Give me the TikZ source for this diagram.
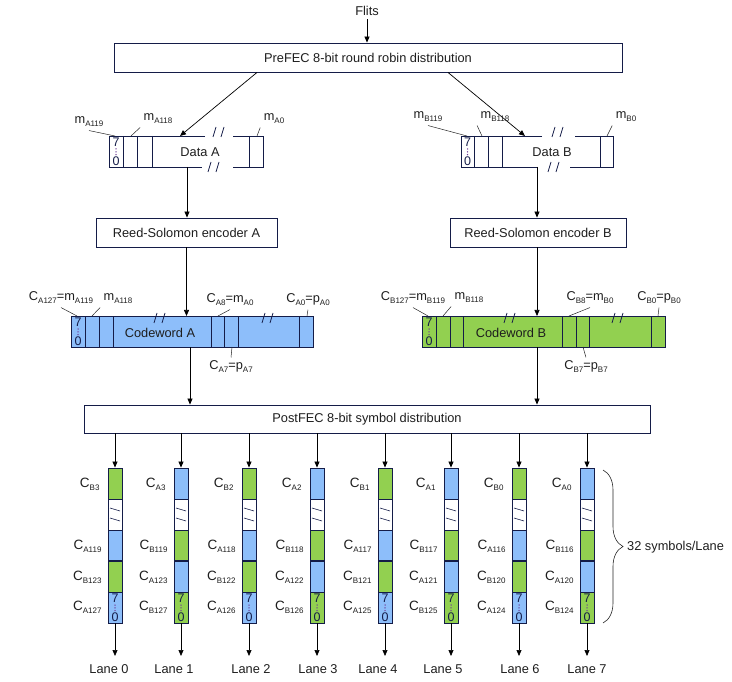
\documentclass[tikz,border=0pt]{standalone}
\usepackage{fontspec}
\setmainfont{Liberation Sans}
\usetikzlibrary{arrows.meta,decorations.pathreplacing}

\definecolor{edgeblue}{RGB}{20,28,72}
\definecolor{symblue}{RGB}{141,190,250}
\definecolor{symgreen}{RGB}{146,208,80}
\definecolor{inktext}{RGB}{30,30,30}
\definecolor{dotpurple}{RGB}{110,60,150}

% small lowered index, as in C_{A127}
\newcommand\ix[1]{\raisebox{-0.45ex}{\fontsize{8}{8}\selectfont #1}}
% 7 ... 0 bit marks in one symbol cell: name, x, top y
\newcommand\bitmarks[3]{%
  \node[digit] (#1t) at (#2,#3+6.5) {7};
  \node[digit] (#1b) at (#2,#3+25) {0};
  \foreach \dy in {13,15.8,18.6} \fill[dotpurple] (#2,#3+\dy) circle (0.75);
}
% broken-line mark "//": x, y
\newcommand\brk[2]{\draw[breakmark] (#1-6,#2+5) -- (#1-3,#2-5) (#1+2,#2+5) -- (#1+5,#2-5);}

\tikzset{
  >={Triangle[length=6pt,width=5pt]},
  every node/.style={font=\fontsize{12.8}{14}\selectfont, text=inktext},
  blockbox/.style={draw=edgeblue, line width=0.9pt, inner sep=0pt, fill=white},
  lanebox/.style={draw=edgeblue, line width=0.9pt, inner sep=0pt, minimum width=14, minimum height=155},
  cellline/.style={draw=edgeblue, line width=0.9pt},
  flow/.style={->, line width=0.7pt, black},
  leader/.style={line width=0.5pt, black!85},
  digit/.style={inner sep=0pt, font=\fontsize{12.5}{12.5}\selectfont, text=edgeblue},
  breakmark/.style={line width=0.8pt, edgeblue},
}

\begin{document}
\begin{tikzpicture}[x=1pt, y=-1pt]
  % --- 0. Canvas ---
  \useasboundingbox (0,0) rectangle (732,682);

  % --- 1. Distribution and encoder blocks ---
  \node (flits) at (367,11) {Flits};
  \node[blockbox, minimum width=508, minimum height=29] (prefec) at (368,57.5) {PreFEC 8-bit round robin distribution};
  \node[blockbox, minimum width=181, minimum height=29] (rsA) at (186.5,232.5) {Reed-Solomon encoder A};
  \node[blockbox, minimum width=176, minimum height=29] (rsB) at (538,232.5) {Reed-Solomon encoder B};
  \node[blockbox, minimum width=566, minimum height=28] (postfec) at (367,419) {PostFEC 8-bit symbol distribution};

  % --- 2. Data blocks ---
  \draw[cellline] (205,136) -- (109,136) -- (109,167) -- (202,167)
                  (233,136) -- (263,136) -- (263,167) -- (233,167);
  \foreach \xd in {123,137,152,249} \draw[cellline] (\xd,136) -- (\xd,167);
  \brk{219}{132} \brk{214}{167}
  \node (dataA) at (200,152) {Data A};
  \bitmarks{dA}{116}{136}

  \draw[cellline] (542,136) -- (461,136) -- (461,167) -- (538,167)
                  (575,136) -- (613,136) -- (613,167) -- (570,167);
  \foreach \xd in {474,488,502,600} \draw[cellline] (\xd,136) -- (\xd,167);
  \brk{558}{132} \brk{554}{167}
  \node (dataB) at (552,152) {Data B};
  \bitmarks{dB}{467.5}{136}

  % --- 3. Codewords ---
  \filldraw[cellline, fill=symblue] (71,316) rectangle (313,347);
  \foreach \xd in {85,99,113,211,224,238,299} \draw[cellline] (\xd,316) -- (\xd,347);
  \brk{160}{318} \brk{268}{318}
  \node (cwA) at (160,333) {Codeword A};
  \bitmarks{cA}{78}{316}

  \filldraw[cellline, fill=symgreen] (422,316) rectangle (665,347);
  \foreach \xd in {436,450,463,562,576,589,651} \draw[cellline] (\xd,316) -- (\xd,347);
  \brk{510}{318} \brk{618}{318}
  \node (cwB) at (511,333) {Codeword B};
  \bitmarks{cB}{429}{316}

  % attach points on the drawn blocks
  \coordinate (dataAtop) at (180,136);
  \coordinate (dataAbot) at (187,167);
  \coordinate (dataBtop) at (525,136);
  \coordinate (dataBbot) at (537,167);
  \coordinate (cwAin) at (186.5,316);
  \coordinate (cwAout) at (190,347);
  \coordinate (cwBin) at (537,316);
  \coordinate (cwBout) at (537,347);

  % --- 4. Flow arrows ---
  \draw[flow] (flits.south) -- (flits.south |- prefec.north);
  \draw[flow] ([xshift=-111pt]prefec.south) -- (dataAtop);
  \draw[flow] ([xshift=80pt]prefec.south) -- (dataBtop);
  \draw[flow] (dataAbot) -- (dataAbot |- rsA.north);
  \draw[flow] (dataBbot) -- (dataBbot |- rsB.north);
  \draw[flow] (rsA.south) -- (cwAin);
  \draw[flow] (rsB.south -| cwBin) -- (cwBin);
  \draw[flow] (cwAout) -- (cwAout |- postfec.north);
  \draw[flow] (cwBout) -- (cwBout |- postfec.north);

  % --- 5. Symbol labels with leaders ---
  \node (mA119) at (89,122) {m\ix{A119}};
  \node (mA118) at (158,119) {m\ix{A118}};
  \node (mA0) at (274,119) {m\ix{A0}};
  \node (mB119) at (428,117) {m\ix{B119}};
  \node (mB118) at (495,117) {m\ix{B118}};
  \node (mB0) at (626,117) {m\ix{B0}};
  \coordinate (pA119) at (115,136);
  \coordinate (pA118) at (131,136);
  \coordinate (pA0) at (257,136);
  \coordinate (pB119) at (467,136);
  \coordinate (pB118) at (482,136);
  \coordinate (pB0) at (607,136);
  \draw[leader] (mA119.south) -- (pA119);
  \draw[leader] (mA118.south west) -- (pA118);
  \draw[leader] (mA0.south west) -- (pA0);
  \draw[leader] (mB119.south) -- (pB119);
  \draw[leader] (mB118.south west) -- (pB118);
  \draw[leader] (mB0.south west) -- (pB0);

  \node (cA127) at (61,298) {C\ix{A127}=m\ix{A119}};
  \node (cmA118) at (118,299) {m\ix{A118}};
  \node (cA8) at (230,300) {C\ix{A8}=m\ix{A0}};
  \node (cA0) at (308,300) {C\ix{A0}=p\ix{A0}};
  \node (cA7) at (231,367) {C\ix{A7}=p\ix{A7}};
  \node (cB127) at (413,298) {C\ix{B127}=m\ix{B119}};
  \node (cmB118) at (469,298) {m\ix{B118}};
  \node (cB8) at (590,298) {C\ix{B8}=m\ix{B0}};
  \node (cB0) at (659,298) {C\ix{B0}=p\ix{B0}};
  \node (cB7) at (586,367) {C\ix{B7}=p\ix{B7}};
  \coordinate (qA127) at (77,316);
  \coordinate (qA118) at (92,316);
  \coordinate (qA8) at (218,316);
  \coordinate (qA0) at (307,316);
  \coordinate (qA7) at (232,347);
  \coordinate (qB127) at (428,316);
  \coordinate (qB118) at (443,316);
  \coordinate (qB8) at (569,316);
  \coordinate (qB0) at (658,316);
  \coordinate (qB7) at (583,347);
  \draw[leader] (cA127.south) -- (qA127);
  \draw[leader] (cmA118.south west) -- (qA118);
  \draw[leader] (cA8.south) -- (qA8);
  \draw[leader] (cA0.south) -- (qA0);
  \draw[leader] (cA7.north) -- (qA7);
  \draw[leader] (cB127.south) -- (qB127);
  \draw[leader] (cmB118.south west) -- (qB118);
  \draw[leader] (cB8.south) -- (qB8);
  \draw[leader] (cB0.south) -- (qB0);
  \draw[leader] (cB7.north) -- (qB7);

  % --- 6. Lanes ---
  \foreach \xc/\lx/\ca/\cb/\sa/\sb/\sc/\sd [count=\i from 0] in {
      115/109/symgreen/symblue/B3/A119/B123/A127,
      181/174/symblue/symgreen/A3/B119/A123/B127,
      249/251/symgreen/symblue/B2/A118/B122/A126,
      317/318/symblue/symgreen/A2/B118/A122/B126,
      385/378/symgreen/symblue/B1/A117/B121/A125,
      451/443/symblue/symgreen/A1/B117/A121/B125,
      519/520/symgreen/symblue/B0/A116/B120/A124,
      587/587/symblue/symgreen/A0/B116/A120/B124}
  {
    \fill[\ca] (\xc-7,468) rectangle (\xc+7,499);
    \fill[\cb] (\xc-7,530) rectangle (\xc+7,561);
    \fill[\ca] (\xc-7,561) rectangle (\xc+7,592);
    \fill[\cb] (\xc-7,592) rectangle (\xc+7,623);
    \node[lanebox] (lane\i) at (\xc,545.5) {};
    \foreach \yl in {499,530,592} \draw[cellline] (\xc-7,\yl) -- (\xc+7,\yl);
    \draw[cellline, line width=1.6pt] (\xc-7,561) -- (\xc+7,561);
    \draw[breakmark, line width=0.6pt] (\xc-5,508) -- (\xc+5,511) (\xc-5,518) -- (\xc+5,521);
    \bitmarks{lb\i}{\xc}{592}
    \node[anchor=east, font=\fontsize{13.5}{14}\selectfont] (sa\i) at (\xc-12,484) {C\ix{\sa}};
    \node[anchor=east, font=\fontsize{13.5}{14}\selectfont] (sb\i) at (\xc-10,546) {C\ix{\sb}};
    \node[anchor=east, font=\fontsize{13.5}{14}\selectfont] (sc\i) at (\xc-10,577) {C\ix{\sc}};
    \node[anchor=east, font=\fontsize{13.5}{14}\selectfont] (sd\i) at (\xc-10,607) {C\ix{\sd}};
    \node (lanelab\i) at (\lx,669) {Lane \i};
    \coordinate (laneend\i) at (\xc,656);
    \draw[flow] (postfec.south -| lane\i.north) -- (lane\i.north);
    \draw[flow] (lane\i.south) -- (laneend\i);
  }

  % --- 7. Brace ---
  \coordinate (bracetop) at (603,470);
  \coordinate (bracebot) at (603,623);
  \draw[decorate, decoration={brace, amplitude=20pt}, line width=0.6pt, black!85] (bracetop) -- (bracebot);
  \node[anchor=west, inner sep=0pt] (symcount) at (627,547) {32 symbols/Lane};
\end{tikzpicture}
\end{document}
